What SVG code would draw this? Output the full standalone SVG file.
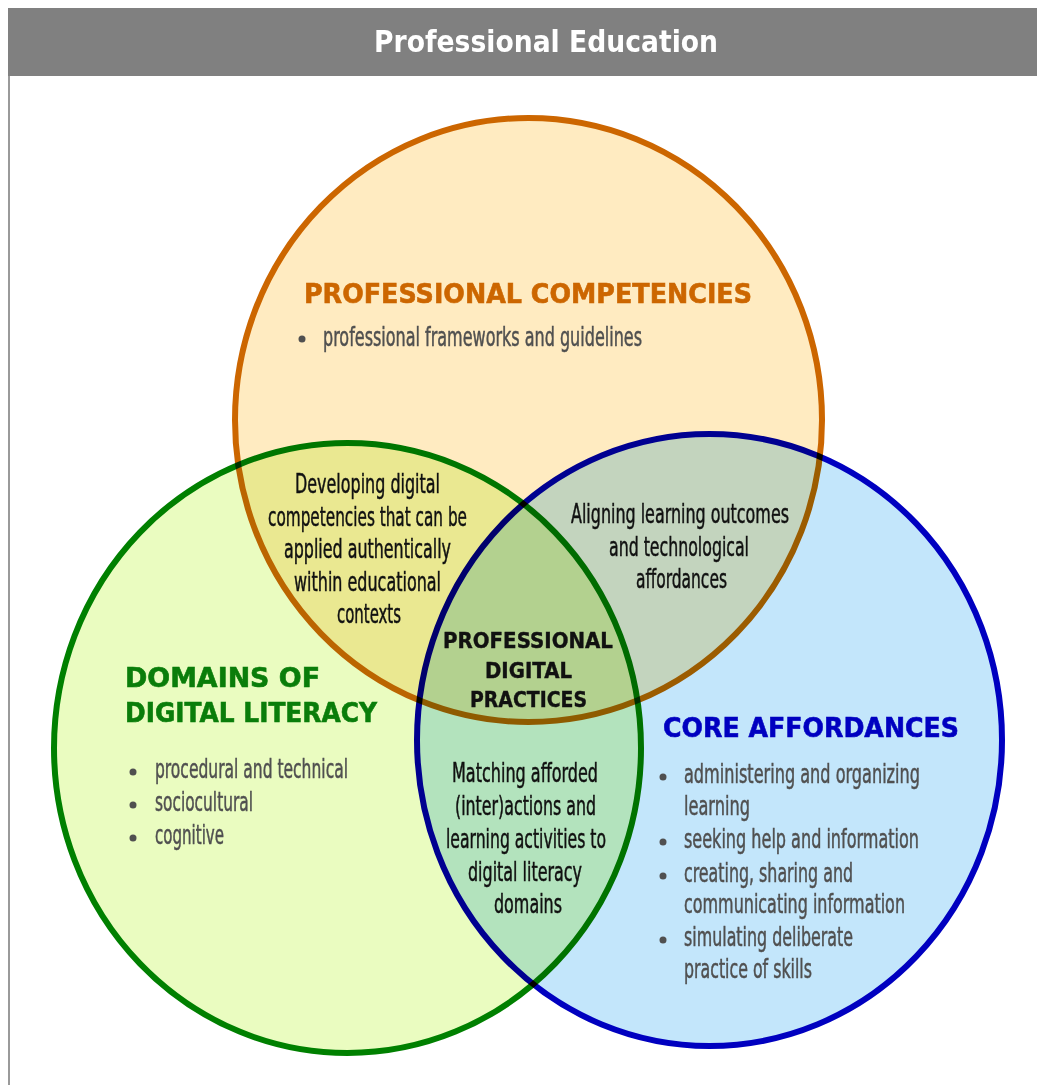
<svg xmlns="http://www.w3.org/2000/svg" width="1037" height="1085" viewBox="0 0 1037 1085">
  <style>
    .circ { mix-blend-mode: multiply; stroke-width: 6; }
    .body { font-family: "Liberation Sans Narrow", "DejaVu Sans Condensed", "Liberation Sans", sans-serif; font-stretch: condensed; font-size: 26px; fill: #505050; stroke: #505050; stroke-width: 0.5; }
    .dark { font-family: "Liberation Sans Narrow", "DejaVu Sans Condensed", "Liberation Sans", sans-serif; font-stretch: condensed; font-size: 27px; fill: #111111; stroke: #111111; stroke-width: 0.5; text-anchor: middle; }
    .title { font-family: "DejaVu Sans", "Liberation Sans", sans-serif; font-weight: bold; font-size: 27px; stroke-width: 0.6; }
    .ctitle { font-family: "DejaVu Sans", "Liberation Sans", sans-serif; font-weight: bold; font-size: 21px; fill: #111111; stroke: #111111; stroke-width: 0.4; text-anchor: middle; }
    .dot { fill: #505050; }
  </style>
  <rect x="0" y="0" width="1037" height="1085" fill="#ffffff"/>
  <g id="frame">
    <rect x="8" y="8" width="1029" height="68" fill="#808080"/>
    <rect x="8" y="76" width="2" height="1009" fill="#9a9a9a"/>
    <text x="546" y="52" text-anchor="middle" textLength="344" lengthAdjust="spacingAndGlyphs" font-family="Liberation Sans Narrow, DejaVu Sans Condensed, Liberation Sans, sans-serif" font-weight="bold" font-size="30" fill="#ffffff">Professional Education</text>
  </g>

  <g id="professional-competencies">
    <ellipse class="circ" cx="528.5" cy="420" rx="293.5" ry="302" fill="#FFEBC1" stroke="#CC6600"/>
    <text class="title" x="304" y="303" fill="#CC6600" stroke="#CC6600" textLength="448" lengthAdjust="spacingAndGlyphs">PROFESSIONAL COMPETENCIES</text>
    <circle class="dot" cx="302" cy="339" r="3.5"/>
    <text class="body" x="323" y="346" textLength="319" lengthAdjust="spacingAndGlyphs">professional frameworks and guidelines</text>
  </g>

  <g id="domains-of-digital-literacy">
    <ellipse class="circ" cx="347.5" cy="748" rx="293.5" ry="305" fill="#EAFCC0" stroke="#008000"/>
    <text class="title" x="125" y="687" fill="#0A7D0A" stroke="#0A7D0A" textLength="195" lengthAdjust="spacingAndGlyphs">DOMAINS OF</text>
    <text class="title" x="125" y="722" fill="#0A7D0A" stroke="#0A7D0A" textLength="252" lengthAdjust="spacingAndGlyphs">DIGITAL LITERACY</text>
    <circle class="dot" cx="133" cy="772" r="3.5"/>
    <text class="body" x="155" y="778" textLength="193" lengthAdjust="spacingAndGlyphs">procedural and technical</text>
    <circle class="dot" cx="133" cy="805" r="3.5"/>
    <text class="body" x="155" y="811" textLength="98" lengthAdjust="spacingAndGlyphs">sociocultural</text>
    <circle class="dot" cx="133" cy="838" r="3.5"/>
    <text class="body" x="155" y="844" textLength="69" lengthAdjust="spacingAndGlyphs">cognitive</text>
  </g>

  <g id="core-affordances">
    <ellipse class="circ" cx="709.5" cy="740" rx="292.5" ry="306" fill="#C3E6FB" stroke="#0000C0"/>
    <text class="title" x="663" y="737" fill="#0000C0" stroke="#0000C0" textLength="296" lengthAdjust="spacingAndGlyphs">CORE AFFORDANCES</text>
    <circle class="dot" cx="663" cy="777" r="3.5"/>
    <text class="body" x="684" y="783" textLength="236" lengthAdjust="spacingAndGlyphs">administering and organizing</text>
    <text class="body" x="684" y="815" textLength="66" lengthAdjust="spacingAndGlyphs">learning</text>
    <circle class="dot" cx="663" cy="842" r="3.5"/>
    <text class="body" x="684" y="848" textLength="235" lengthAdjust="spacingAndGlyphs">seeking help and information</text>
    <circle class="dot" cx="663" cy="876" r="3.5"/>
    <text class="body" x="684" y="882" textLength="169" lengthAdjust="spacingAndGlyphs">creating, sharing and</text>
    <text class="body" x="684" y="913" textLength="221" lengthAdjust="spacingAndGlyphs">communicating information</text>
    <circle class="dot" cx="663" cy="940" r="3.5"/>
    <text class="body" x="684" y="946" textLength="169" lengthAdjust="spacingAndGlyphs">simulating deliberate</text>
    <text class="body" x="684" y="978" textLength="128" lengthAdjust="spacingAndGlyphs">practice of skills</text>
  </g>

  <g id="competencies-literacy-overlap">
    <text class="dark" x="367.5" y="493" textLength="145" lengthAdjust="spacingAndGlyphs">Developing digital</text>
    <text class="dark" x="367.5" y="525.5" textLength="199" lengthAdjust="spacingAndGlyphs">competencies that can be</text>
    <text class="dark" x="367.5" y="558" textLength="167" lengthAdjust="spacingAndGlyphs">applied authentically</text>
    <text class="dark" x="367.5" y="590.5" textLength="147" lengthAdjust="spacingAndGlyphs">within educational</text>
    <text class="dark" x="369" y="623" textLength="64" lengthAdjust="spacingAndGlyphs">contexts</text>
  </g>

  <g id="competencies-affordances-overlap">
    <text class="dark" x="680" y="523" textLength="218" lengthAdjust="spacingAndGlyphs">Aligning learning outcomes</text>
    <text class="dark" x="679" y="555.5" textLength="140" lengthAdjust="spacingAndGlyphs">and technological</text>
    <text class="dark" x="681.5" y="588" textLength="91" lengthAdjust="spacingAndGlyphs">affordances</text>
  </g>

  <g id="literacy-affordances-overlap">
    <text class="dark" x="525" y="782" textLength="146" lengthAdjust="spacingAndGlyphs">Matching afforded</text>
    <text class="dark" x="525.5" y="815" textLength="141" lengthAdjust="spacingAndGlyphs">(inter)actions and</text>
    <text class="dark" x="526" y="848" textLength="160" lengthAdjust="spacingAndGlyphs">learning activities to</text>
    <text class="dark" x="525" y="881" textLength="114" lengthAdjust="spacingAndGlyphs">digital literacy</text>
    <text class="dark" x="528" y="913" textLength="68" lengthAdjust="spacingAndGlyphs">domains</text>
  </g>

  <g id="professional-digital-practices">
    <text class="ctitle" x="528" y="648" textLength="170" lengthAdjust="spacingAndGlyphs">PROFESSIONAL</text>
    <text class="ctitle" x="528.5" y="677.5" textLength="87" lengthAdjust="spacingAndGlyphs">DIGITAL</text>
    <text class="ctitle" x="528.5" y="707" textLength="117" lengthAdjust="spacingAndGlyphs">PRACTICES</text>
  </g>

  <g id="connectors"/>
</svg>
